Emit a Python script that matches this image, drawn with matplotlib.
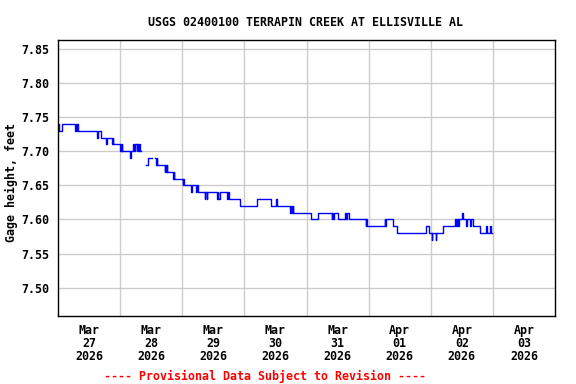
import datetime as dt

import matplotlib
matplotlib.use("Agg")
import matplotlib.pyplot as plt
import numpy as np

# gage height readings, stored as (hours since Mar 27 00:00, feet); nan = gap
hours = [0.0, 0.5, 1.55, 6.7, 6.9, 7.2, 7.4, 7.6,
         15.0, 15.35, 16.6, 18.7, 19.0, 20.9, 21.1, 21.4,
         23.9, 24.15, 24.35, 24.65, 24.85, 27.85, 28.2,
         29.0, 29.4, 29.6, 30.4, 30.6, 30.9, 31.3, 31.7, 32.2,
         34.1, 34.6, 36.4,
         37.6, 37.9, 38.1, 38.4, 41.2, 41.5, 41.8, 42.0, 42.2,
         44.3, 44.7, 44.9, 48.1, 48.3, 48.6, 51.5, 51.7, 53.4, 53.6, 54.0,
         56.7, 56.9, 57.5, 57.7, 61.5, 61.7, 62.0, 62.4, 65.4, 65.6, 66.1,
         70.2, 77.0, 82.2, 84.4, 84.6,
         89.6, 89.9, 90.3, 90.6, 90.8, 97.9, 100.5,
         105.7, 106.0, 106.3, 106.7, 108.0, 110.9, 111.4, 111.7, 112.5,
         118.9, 119.1, 119.5, 126.2, 126.5, 126.7, 129.5, 131.0,
         142.1, 143.2, 144.4, 144.6, 145.9, 146.2, 148.9,
         153.4, 153.8, 154.1, 154.6, 154.9, 156.0, 156.6,
         157.6, 157.9, 159.3, 159.6, 160.5,
         163.1, 165.4, 165.7, 167.0, 167.3, 167.6]
gage = [7.74, 7.73, 7.74, 7.73, 7.74, 7.73, 7.74, 7.73,
        7.72, 7.73, 7.72, 7.71, 7.72, 7.71, 7.72, 7.71,
        7.70, 7.71, 7.70, 7.71, 7.70, 7.69, 7.70,
        7.71, 7.70, 7.71, 7.70, 7.71, 7.70, 7.71, 7.70, np.nan,
        7.68, 7.69, np.nan,
        7.69, 7.68, 7.69, 7.68, 7.67, 7.68, 7.67, 7.68, 7.67,
        7.66, 7.67, 7.66, 7.65, 7.66, 7.65, 7.64, 7.65, 7.64, 7.65, 7.64,
        7.63, 7.64, 7.63, 7.64, 7.63, 7.64, 7.63, 7.64, 7.63, 7.64, 7.63,
        7.62, 7.63, 7.62, 7.63, 7.62,
        7.61, 7.62, 7.61, 7.62, 7.61, 7.60, 7.61,
        7.60, 7.61, 7.60, 7.61, 7.60, 7.61, 7.60, 7.61, 7.60,
        7.59, 7.60, 7.59, 7.60, 7.59, 7.60, 7.59, 7.58,
        7.59, 7.58, 7.57, 7.58, 7.57, 7.58, 7.59,
        7.60, 7.59, 7.60, 7.59, 7.60, 7.61, 7.60,
        7.59, 7.60, 7.59, 7.60, 7.59,
        7.58, 7.59, 7.58, 7.59, 7.58, 7.58]

start = dt.datetime(2026, 3, 27)
end = dt.datetime(2026, 4, 4)
times = [start + dt.timedelta(hours=h) for h in hours]

font = "DejaVu Sans Mono"
fs = 8.4

fig = plt.figure(figsize=(5.76, 3.84), dpi=100)
ax = fig.add_axes([58 / 576, 1 - 316 / 384, 497 / 576, 276 / 384])

ax.plot(times, gage, color="#0000ff", lw=1.0, drawstyle="steps-post")

ax.set_xlim(start, end)
ax.set_ylim(7.4585, 7.863)

# labels at noon, grid lines at midnight
days = [start + dt.timedelta(days=i) for i in range(8)]
ax.set_xticks([d + dt.timedelta(hours=12) for d in days])
ax.set_xticklabels([d.strftime("%b\n%d\n%Y") for d in days],
                   fontfamily=font, fontweight="bold", fontsize=fs, linespacing=1.0)
ax.set_xticks(days[1:], minor=True)
yt = np.arange(7.50, 7.851, 0.05)
ax.set_yticks(yt)
ax.set_yticklabels(["%.2f" % v for v in yt], fontfamily=font, fontweight="bold", fontsize=fs)
ax.tick_params(axis="both", which="both", length=0)
ax.tick_params(axis="x", pad=6)
ax.tick_params(axis="y", pad=6)
ax.grid(True, which="minor", axis="x", color="#cccccc", lw=1.0)
ax.grid(True, which="major", axis="y", color="#cccccc", lw=1.0)
ax.set_axisbelow(True)
for s in ax.spines.values():
    s.set_linewidth(1.0)

ax.set_ylabel("Gage height, feet", fontfamily=font, fontweight="bold", fontsize=fs)
ax.yaxis.set_label_coords(-40 / 497, 0.485)

fig.text(306 / 576, 1 - 22 / 384, "USGS 02400100 TERRAPIN CREEK AT ELLISVILLE AL",
         ha="center", va="center", fontfamily=font, fontweight="bold", fontsize=fs)
fig.text(265 / 576, 1 - 376.5 / 384, "---- Provisional Data Subject to Revision ----",
         ha="center", va="center", fontfamily=font, fontweight="bold", fontsize=fs,
         color="#ff0000")

fig.savefig("out.png", dpi=100)
